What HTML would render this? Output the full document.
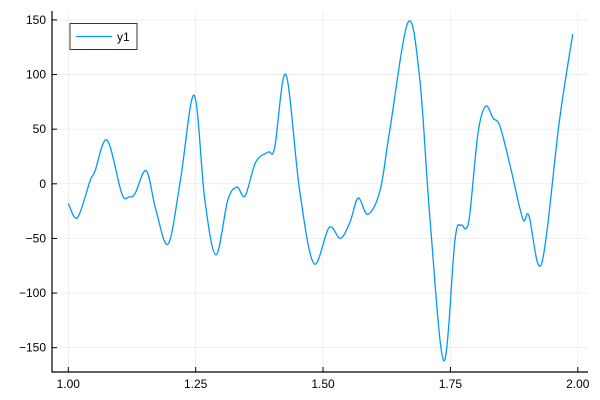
<!DOCTYPE html>
<html><head><meta charset="utf-8"><style>
body{margin:0;background:#fff}
svg{display:block;font-family:"Liberation Sans",sans-serif}
</style></head><body>
<svg id="c" width="600" height="400" xmlns="http://www.w3.org/2000/svg">
<g id="grid"></g>
<g id="axes"></g>
<path id="line" fill="none" stroke="#009af9" stroke-width="1.3"/>
<g>
<rect x="70" y="23.5" width="67" height="26" fill="#fff" stroke="#333" stroke-width="1"/>
<line x1="76" y1="36.5" x2="112" y2="36.5" stroke="#009af9" stroke-width="1.3"/>
<text x="117" y="41" font-size="12" fill="#000">y1</text>
</g>
</svg>
<script>
const xs=[1.00,1.018,1.043,1.052,1.076,1.105,1.119,1.131,1.153,1.172,1.196,1.22,1.247,1.268,1.29,1.313,1.331,1.347,1.368,1.392,1.405,1.427,1.454,1.482,1.512,1.534,1.553,1.569,1.588,1.612,1.631,1.667,1.69,1.71,1.737,1.759,1.771,1.78,1.788,1.804,1.819,1.834,1.847,1.867,1.892,1.904,1.929,1.964,1.99];
const ys=[-18,-31,3,11,40,-9,-12,-9,12,-24,-55,3,81,-15,-65,-15,-3,-11,20,29,33,100,-6,-73,-40,-50,-35,-13,-28,-6,49,148,95,-33,-162,-51,-38,-41,-28,46,71,60,53,17,-32,-29,-73,58,137];
const xTicks=[1.00,1.25,1.50,1.75,2.00];
const xTickLabels=["1.00","1.25","1.50","1.75","2.00"];
const yTicks=[-150,-100,-50,0,50,100,150];
const yTickLabels=["\u2212150","\u2212100","\u221250","0","50","100","150"];
const X=v=>68.3+(v-1)*509.5;
const Y=v=>183.8-v*1.0926;
const L=52,R=588,T=11,B=372;
const NS="http://www.w3.org/2000/svg";
function mk(parent,tag,attrs){const e=document.createElementNS(NS,tag);for(const k in attrs)e.setAttribute(k,attrs[k]);parent.appendChild(e);return e;}
const g=document.getElementById('grid'),a=document.getElementById('axes');
xTicks.forEach((t,i)=>{
 const l=mk(g,'line',{x1:X(t),x2:X(t),y1:T,y2:B,stroke:'#000','stroke-opacity':0.1,'stroke-width':0.6});
 
 
 const tk=mk(a,'line',{x1:X(t),x2:X(t),y1:B,y2:B-5,stroke:'#000','stroke-width':1});
 
 
 const tx=mk(a,'text',{x:X(t),y:388,'font-size':12,'text-anchor':'middle',fill:'#000'});
 tx.textContent=xTickLabels[i];
 
 
});
yTicks.forEach((t,i)=>{
 const l=mk(g,'line',{x1:L,x2:R,y1:Y(t),y2:Y(t),stroke:'#000','stroke-opacity':0.1,'stroke-width':0.6});
 
 
 const tk=mk(a,'line',{x1:L,x2:L+5,y1:Y(t),y2:Y(t),stroke:'#000','stroke-width':1});
 
 
 const tx=mk(a,'text',{x:46,y:Y(t)+4,'font-size':12,'text-anchor':'end',fill:'#000'});
 tx.textContent=yTickLabels[i];
 
 
});
const ax=mk(a,'path',{d:`M${L},${T}V${B}H${R}`,fill:'none',stroke:'#000','stroke-width':1.2});


const P=xs.map((x,i)=>[X(x),Y(ys[i])]);
let d=`M${P[0][0]},${P[0][1]}`;
for(let i=0;i<P.length-1;i++){
 const p0=P[Math.max(0,i-1)],p1=P[i],p2=P[i+1],p3=P[Math.min(P.length-1,i+2)];
 const c1=[p1[0]+(p2[0]-p0[0])/6,p1[1]+(p2[1]-p0[1])/6];
 const c2=[p2[0]-(p3[0]-p1[0])/6,p2[1]-(p3[1]-p1[1])/6];
 d+=`C${c1[0]},${c1[1]} ${c2[0]},${c2[1]} ${p2[0]},${p2[1]}`;
}
document.getElementById('line').setAttribute('d',d);
</script>
</body></html>
